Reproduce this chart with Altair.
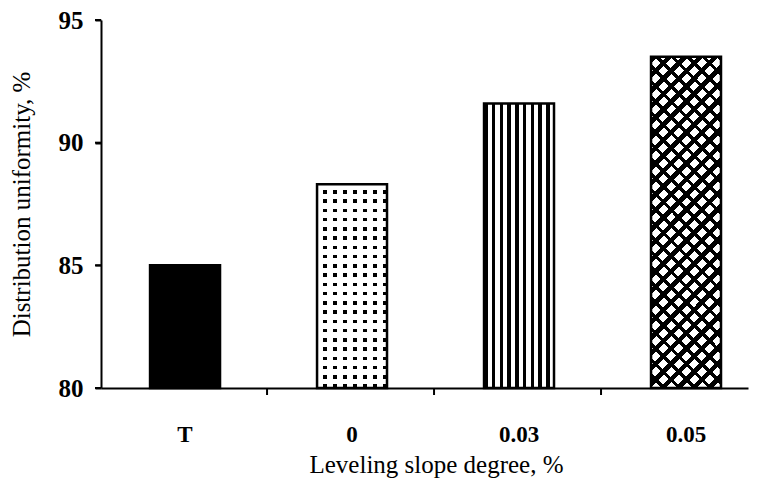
import altair as alt
import pandas as pd

# ---- data ----
categories = ["T", "0", "0.03", "0.05"]
values = [85.0, 88.3, 91.6, 93.5]
y_ticks = [80, 85, 90, 95]
y_min = 80
y_max = 95

df = pd.DataFrame({"slope": categories, "du": values, "base": [y_min] * len(categories)})
tick_df = pd.DataFrame({"du": y_ticks})
xtick_df = pd.DataFrame({"slope": categories[1:]})  # separators before each category but the first

FONT = "Liberation Serif"
CLEAR = "rgba(255,255,255,0)"


def stripes(periods, ink_frac, ink, gap):
    """Hard-edged gradient stops producing repeating stripes."""
    stops = []
    for i in range(periods):
        a = i / periods
        m = (i + ink_frac) / periods
        b = (i + 1) / periods
        stops += [
            alt.GradientStop(offset=a, color=ink),
            alt.GradientStop(offset=m, color=ink),
            alt.GradientStop(offset=m, color=gap),
            alt.GradientStop(offset=b, color=gap),
        ]
    return stops


x_scale = alt.Scale(domain=categories, paddingInner=0.581, paddingOuter=0.2277, align=0.645)
y_scale = alt.Scale(domain=[y_min, y_max], nice=False, zero=False)

x_axis = alt.Axis(
    title="Leveling slope degree, %",
    labelAngle=0,
    tickSize=6,
    tickOpacity=0,
    labelFont=FONT,
    labelFontSize=23,
    labelFontWeight="bold",
    labelColor="black",
    labelPadding=29,
    titleFont=FONT,
    titleFontSize=25,
    titleFontWeight="normal",
    titleColor="black",
    titlePadding=6,
    titleX=335,
    domainColor="black",
    domainWidth=2,
    grid=False,
)
y_axis = alt.Axis(
    title="Distribution uniformity, %",
    values=y_ticks,
    tickSize=6,
    tickWidth=2,
    tickColor="#000000",
    labelFont=FONT,
    labelFontSize=25,
    labelFontWeight="bold",
    labelColor="black",
    labelPadding=12,
    titleFont=FONT,
    titleFontSize=25,
    titleFontWeight="normal",
    titleColor="black",
    titlePadding=24,
    domainColor="black",
    domainWidth=2,
    grid=False,
)

x_enc = alt.X("slope:N", sort=categories, scale=x_scale, axis=x_axis)
y_enc = alt.Y("du:Q", scale=y_scale, axis=y_axis)

base = alt.Chart(df).encode(x=x_enc, y=y_enc, y2=alt.Y2("base:Q"))


def only(cat):
    return base.transform_filter(alt.datum.slope == cat)


# T: solid black
bar_t = only("T").mark_bar(fill="black")

# 0: dotted (black base, white horizontal + vertical stripes leave dots)
dot_base = only("0").mark_bar(fill="black")
dot_h = only("0").mark_bar(
    fill=alt.LinearGradient(gradient="linear", x1=0, y1=0, x2=0, y2=1,
                            stops=stripes(22, 0.62, "white", CLEAR))
)
dot_v = only("0").mark_bar(
    fill=alt.LinearGradient(gradient="linear", x1=0, y1=0, x2=1, y2=0,
                            stops=stripes(7, 0.62, "white", CLEAR))
)

# 0.03: vertical stripes
bar_v = only("0.03").mark_bar(
    fill=alt.LinearGradient(gradient="linear", x1=0, y1=0, x2=1, y2=0,
                            stops=stripes(9, 0.45, "black", "white"))
)

# 0.05: cross hatch (two diagonal stripe sets)
hatch_bg = only("0.05").mark_bar(fill="white")
hatch_a = only("0.05").mark_bar(
    fill=alt.LinearGradient(gradient="linear", x1=0, y1=0, x2=0.2452, y2=1.1596,
                            stops=stripes(26, 0.42, "black", CLEAR))
)
hatch_b = only("0.05").mark_bar(
    fill=alt.LinearGradient(gradient="linear", x1=1, y1=0, x2=0.7548, y2=1.1596,
                            stops=stripes(26, 0.3, "black", CLEAR))
)

outline = base.mark_bar(filled=False, stroke="black", strokeWidth=2.5)

# x-axis separator ticks between categories (band start of each category, shifted into the gap)
x_ticks = alt.Chart(xtick_df).mark_rule(color="black", strokeWidth=2, xOffset=-50).encode(
    x=alt.X("slope:N", sort=categories, scale=x_scale, bandPosition=0, axis=x_axis),
    y=alt.value(368),
    y2=alt.value(375),
)

# y-axis ticks (through the linear scale)
y_tick_marks = alt.Chart(tick_df).mark_rule(color="black", strokeWidth=2).encode(
    y=alt.Y("du:Q", scale=y_scale, axis=y_axis),
    x=alt.value(-6),
    x2=alt.value(0),
)

chart = (
    alt.layer(bar_t, dot_base, dot_h, dot_v, bar_v, hatch_bg, hatch_a, hatch_b, outline,
              x_ticks, y_tick_marks)
    .properties(
        width=647,
        height=368,
        padding={"left": 93, "top": 12, "right": 2, "bottom": 90},
        autosize=alt.AutoSizeParams(type="none"),
        background="white",
    )
    .configure_view(stroke=None)
)

chart.save("out.html", embed_options={"renderer": "svg", "actions": False})
